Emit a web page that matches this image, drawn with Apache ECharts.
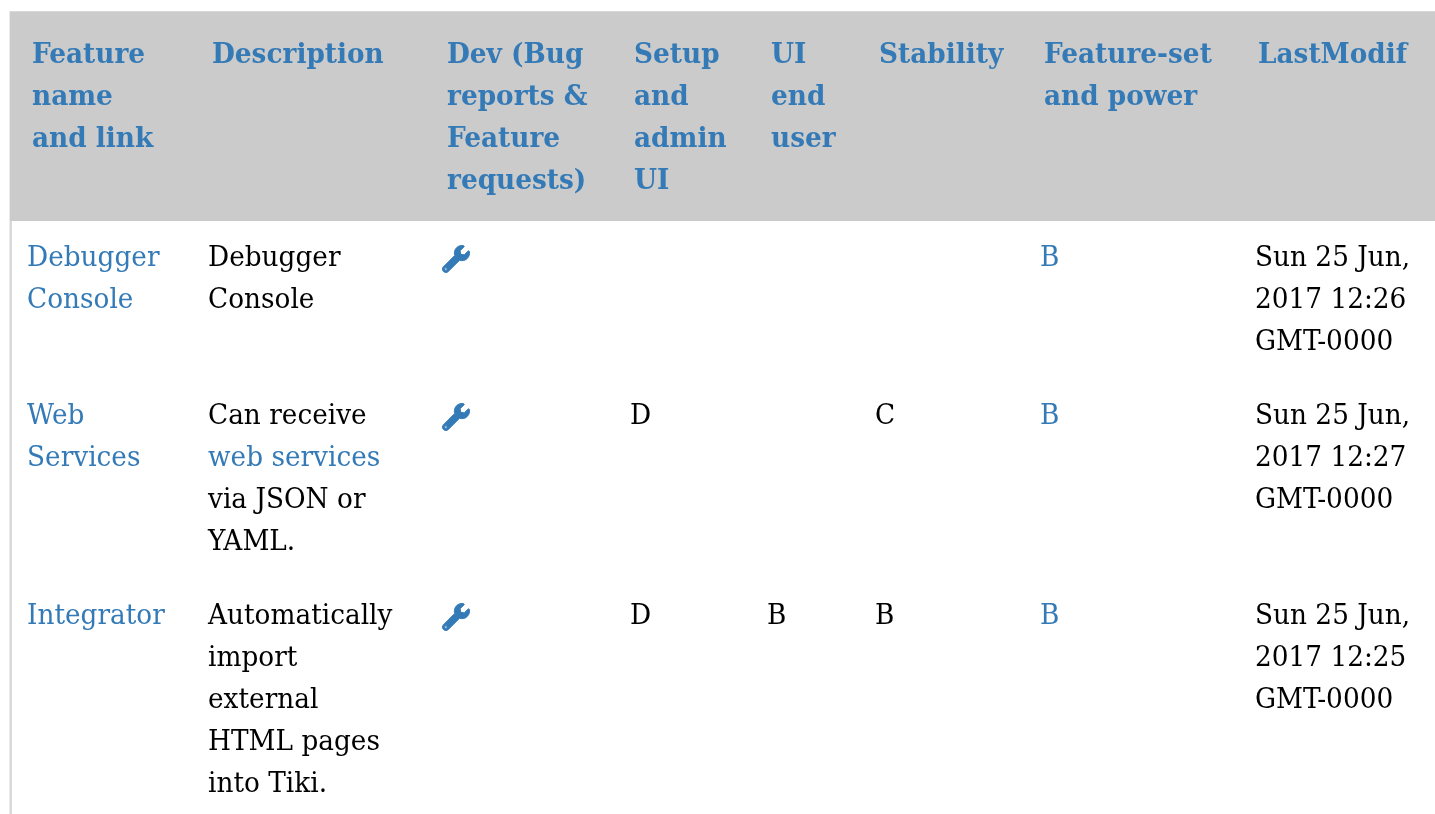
<!DOCTYPE html>
<html><head><meta charset="utf-8">
<style>html,body{margin:0;padding:0;background:#fff}#c{width:1435px;height:814px}</style>
<script src="https://cdn.jsdelivr.net/npm/echarts@6/dist/echarts.min.js"></script>
</head><body><div id="c"></div>
<script>
// ---- content ----
const headers = [
  ['Feature','name','and link'],
  ['Description'],
  ['Dev (Bug','reports &','Feature','requests)'],
  ['Setup','and','admin','UI'],
  ['UI','end','user'],
  ['Stability'],
  ['Feature-set','and power'],
  ['LastModif']
];
const featureNames = [['Debugger','Console'],['Web','Services'],['Integrator']];
const descriptions = [
  ['Debugger','Console'],
  ['Can receive','web services','via JSON or','YAML.'],
  ['Automatically','import','external','HTML pages','into Tiki.']
];
const descriptionLinkLines = [[],[1],[]];
const devIcons = [true,true,true];
const setupGrades = ['','D','D'];
const uiGrades = ['','','B'];
const stabilityGrades = ['','C','B'];
const featureGrades = ['B','B','B'];
const lastModified = [
  ['Sun 25 Jun,','2017 12:26','GMT-0000'],
  ['Sun 25 Jun,','2017 12:27','GMT-0000'],
  ['Sun 25 Jun,','2017 12:25','GMT-0000']
];
// ---- layout ----
const W=1435,H=814,BLUE='#337ab7',FONT='"DejaVu Serif"',SIZE=27,LINE=42,XSCALE=0.976;
const headX=[32,212,447,634,771,879,1044,1258];
const bodyX=[27,208,442,630,767,875,1040,1255];
const headY=56, rowY=[259,417,617];
const WRENCH='M507.73 109.1c-2.24-9.03-13.54-12.09-20.12-5.51l-74.36 74.36-67.88-11.31-11.31-67.88 74.36-74.36c6.62-6.62 3.43-17.9-5.66-20.16-47.38-11.74-99.55.91-136.58 37.93-39.64 39.64-50.55 97.1-34.05 147.2L18.74 402.76c-24.99 24.99-24.99 65.51 0 90.5 24.99 24.99 65.51 24.99 90.5 0l213.21-213.21c50.12 16.71 107.47 5.68 147.37-34.22 37.07-37.07 49.7-89.32 37.91-136.73zM64 472c-13.25 0-24-10.75-24-24 0-13.26 10.75-24 24-24s24 10.74 24 24c0 13.25-10.75 24-24 24z';

const items=[];
headers.forEach((ls,c)=>ls.forEach((t,i)=>items.push({t,x:headX[c],y:headY+i*LINE,color:BLUE,bold:true})));
function addCell(lines,c,r,linkFn){lines.forEach((t,i)=>{if(t)items.push({t,x:bodyX[c],y:rowY[r]+i*LINE,color:linkFn&&linkFn(i)?BLUE:'#000',bold:false});});}
featureNames.forEach((l,r)=>addCell(l,0,r,()=>true));
descriptions.forEach((l,r)=>addCell(l,1,r,i=>descriptionLinkLines[r].includes(i)));
setupGrades.forEach((g,r)=>addCell([g],3,r));
uiGrades.forEach((g,r)=>addCell([g],4,r));
stabilityGrades.forEach((g,r)=>addCell([g],5,r));
featureGrades.forEach((g,r)=>addCell([g],6,r,()=>true));
lastModified.forEach((l,r)=>addCell(l,7,r));
const icons=[];devIcons.forEach((v,r)=>{if(v)icons.push({x:bodyX[2],y:rowY[r]});});

const chart=echarts.init(document.getElementById('c'),null,{renderer:'canvas'});
chart.setOption({
  animation:false,backgroundColor:'#fff',
  grid:{left:0,top:0,width:W,height:H},
  xAxis:{type:'value',min:0,max:W,show:false},
  yAxis:{type:'value',min:0,max:H,inverse:true,show:false},
  series:[
    {type:'custom',coordinateSystem:'cartesian2d',silent:true,clip:false,data:[[0]],z:1,
     renderItem(p,api){
       const a=api.coord([0,0]);
       return {type:'group',children:[
         {type:'rect',shape:{x:a[0]+9.5,y:a[1]+11,width:W,height:H},style:{fill:'#d8d8d8'}},
         {type:'rect',shape:{x:a[0]+12,y:a[1]+12,width:W,height:H},style:{fill:'#fff'}},
         {type:'rect',shape:{x:a[0]+10,y:a[1]+12,width:W,height:209},style:{fill:'#cbcbcb'}}
       ]};
     }},
    {type:'custom',coordinateSystem:'cartesian2d',silent:true,clip:false,z:2,
     data:icons.map(d=>[d.x,d.y]),
     renderItem(p,api){
       const q=api.coord([api.value(0),api.value(1)]);
       return {type:'path',shape:{pathData:WRENCH,layout:'center',x:q[0],y:q[1]-13.5,width:28,height:27},style:{fill:BLUE,stroke:BLUE,lineWidth:1}};
     }},
    {type:'custom',coordinateSystem:'cartesian2d',silent:true,clip:false,z:3,
     data:items.map((d,i)=>[d.x,d.y,i]),
     renderItem(p,api){
       const d=items[api.value(2)],q=api.coord([api.value(0),api.value(1)]);
       return {type:'text',x:q[0],y:q[1],scaleX:XSCALE,style:{text:d.t,fill:d.color,
         font:(d.bold?'bold ':'')+SIZE+'px '+FONT,align:'left',verticalAlign:'middle'}};
     }}
  ]
});
</script></body></html>
